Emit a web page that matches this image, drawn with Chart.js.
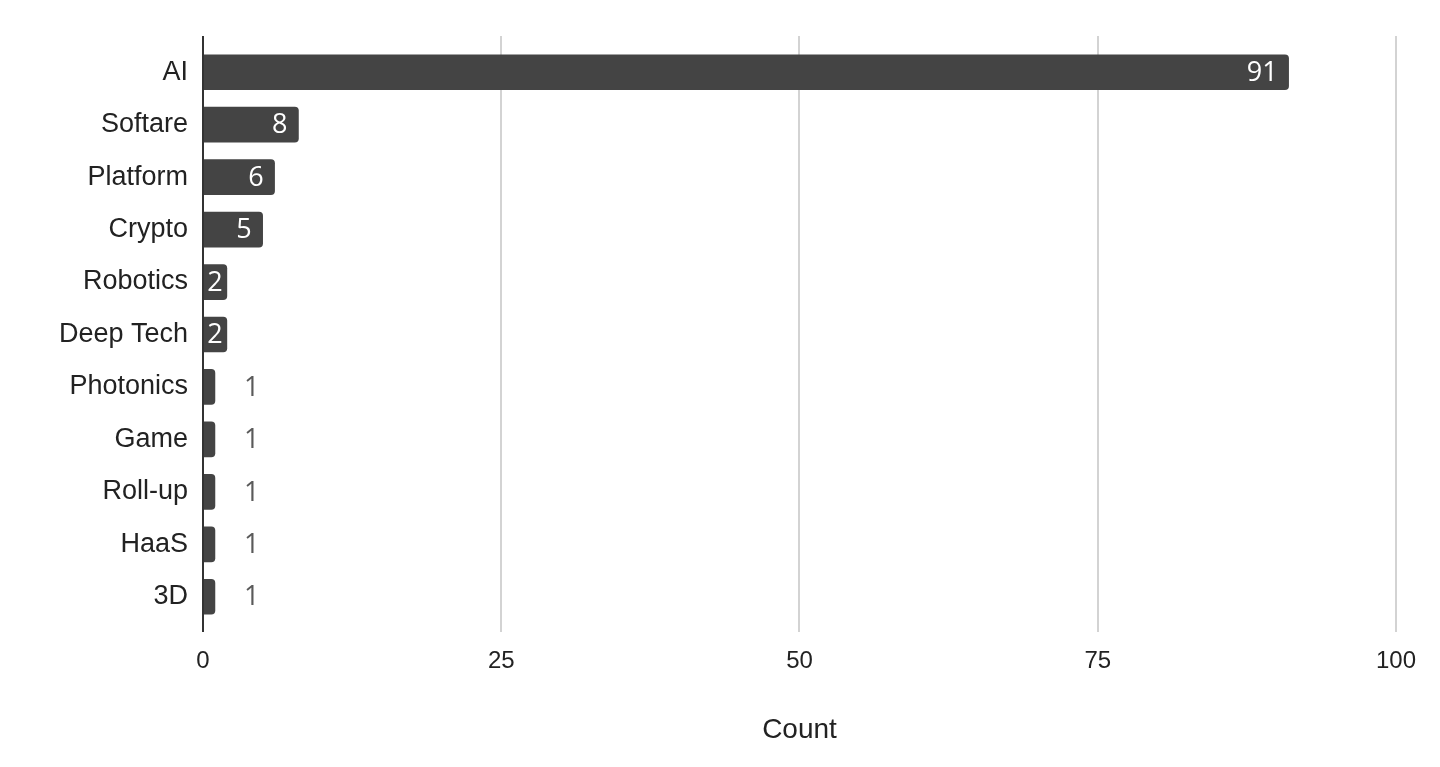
<!DOCTYPE html>
<html lang="en">
<head>
  <meta charset="UTF-8">
  <title>Count by Category</title>
  <script src="https://cdn.jsdelivr.net/npm/chart.js"></script>
  <style>
    * { margin: 0; padding: 0; box-sizing: border-box; }
    body { background: #fff; width: 1440px; height: 767px; overflow: hidden; }
    #countChart { display: block; }
  </style>
</head>
<body>
  <canvas id="countChart" width="1440" height="767"></canvas>

  <script>
    // Data
    const categories = ['AI', 'Softare', 'Platform', 'Crypto', 'Robotics', 'Deep Tech', 'Photonics', 'Game', 'Roll-up', 'HaaS', '3D'];
    const counts = [91, 8, 6, 5, 2, 2, 1, 1, 1, 1, 1];
    const xTicks = [0, 25, 50, 75, 100];

    const barColor = '#444444';
    const sans = '"Liberation Sans", Arial, sans-serif';

    // vertical grid lines, a bit longer than the plot area like the original
    const gridPlugin = {
      id: 'gridLines',
      beforeDatasetsDraw(chart) {
        const ctx = chart.ctx;
        const area = chart.chartArea;
        const xs = chart.scales.x;
        ctx.save();
        ctx.lineWidth = 2;
        ctx.strokeStyle = '#d3d3d3';
        xTicks.forEach(function(v) {
          if (v === 0) return;
          const px = Math.round(xs.getPixelForValue(v));
          ctx.beginPath();
          ctx.moveTo(px, area.top - 10);
          ctx.lineTo(px, area.bottom + 9);
          ctx.stroke();
        });
        ctx.restore();
      },
      afterDatasetsDraw(chart) {
        const ctx = chart.ctx;
        const area = chart.chartArea;
        const px = Math.round(chart.scales.x.getPixelForValue(0));
        ctx.save();
        ctx.lineWidth = 2;
        ctx.strokeStyle = '#333333';
        ctx.beginPath();
        ctx.moveTo(px, area.top - 10);
        ctx.lineTo(px, area.bottom + 9);
        ctx.stroke();
        ctx.restore();
      }
    };

    // value labels: inside the bar end when they fit, outside otherwise
    const valueLabels = {
      id: 'valueLabels',
      afterDraw(chart) {
        const ctx = chart.ctx;
        const meta = chart.getDatasetMeta(0);
        const zero = chart.scales.x.getPixelForValue(0);
        ctx.save();
        ctx.font = '27px "Open Sans", sans-serif';
        ctx.textBaseline = 'middle';
        meta.data.forEach(function(bar, i) {
          const text = String(counts[i]);
          const w = ctx.measureText(text).width;
          const barW = bar.x - zero;
          if (w + 6 <= barW) {
            const pad = Math.min(11, (barW - w) / 2);
            ctx.fillStyle = '#ffffff';
            ctx.textAlign = 'right';
            ctx.fillText(text, bar.x - pad, bar.y + 1);
          } else {
            ctx.fillStyle = '#5a5a5a';
            ctx.textAlign = 'left';
            ctx.fillText(text, bar.x + 29, bar.y + 1);
          }
        });
        ctx.restore();
      }
    };

    new Chart(document.getElementById('countChart'), {
      type: 'bar',
      data: {
        labels: categories,
        datasets: [{
          label: 'Count',
          data: counts,
          backgroundColor: barColor,
          borderRadius: 4,
          borderSkipped: 'start',
          barThickness: 35
        }]
      },
      options: {
        indexAxis: 'y',
        responsive: false,
        animation: false,
        devicePixelRatio: 1,
        layout: {
          padding: { left: 0, right: 42, top: 46, bottom: 0 }
        },
        plugins: {
          legend: { display: false },
          tooltip: { enabled: false }
        },
        scales: {
          x: {
            min: 0,
            max: 100,
            afterFit(scale) { scale.height = 144; },
            afterBuildTicks(scale) {
              scale.ticks = xTicks.map(v => ({ value: v }));
            },
            grid: { display: false, drawTicks: false },
            border: { display: false },
            ticks: {
              color: '#222222',
              font: { family: sans, size: 24 },
              padding: 24,
              maxRotation: 0
            },
            title: {
              display: true,
              text: 'Count',
              color: '#222222',
              font: { family: sans, size: 28 },
              padding: { top: 0, bottom: 20 }
            }
          },
          y: {
            afterFit(scale) { scale.width = 203; },
            grid: { display: false, drawTicks: false },
            border: { display: false },
            ticks: {
              color: '#222222',
              font: { family: sans, size: 27 },
              padding: 15
            }
          }
        }
      },
      plugins: [gridPlugin, valueLabels]
    });
  </script>
</body>
</html>
